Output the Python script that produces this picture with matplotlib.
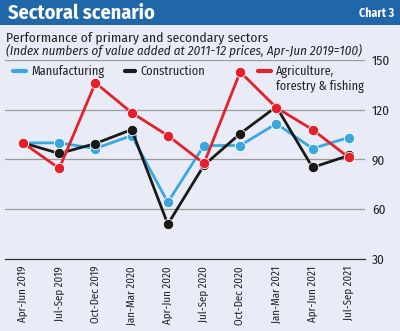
import matplotlib.pyplot as plt
from matplotlib.patches import Rectangle
from matplotlib.lines import Line2D

quarters = ['Apr-Jun 2019', 'Jul-Sep 2019', 'Oct-Dec 2019', 'Jan-Mar 2020',
            'Apr-Jun 2020', 'Jul-Sep 2020', 'Oct-Dec 2020', 'Jan-Mar 2021',
            'Apr-Jun 2021', 'Jul-Sep 2021']
manufacturing = [100, 100, 96.6, 104.4, 64.2, 98.4, 98.4, 111.6, 96.6, 103.2]
construction = [100, 93.6, 99.6, 108, 51, 86.5, 105.6, 121.8, 85.2, 92.4]
agriculture = [100, 84.6, 136.2, 118.2, 104.4, 87.6, 142.8, 121.2, 108, 91.2]
yticks = [30, 60, 90, 120, 150]

bg = '#e9ecf6'
blue, black, red = '#3aa8de', '#1a1a1a', '#e5202a'
narrow = ['Fira Sans Condensed', 'DejaVu Sans']

fig = plt.figure(figsize=(4, 3.31), dpi=100, facecolor=bg)
ax = fig.add_axes([0.0125, 0.2175, 0.9, 0.6015], facecolor=bg)

# title band
fig.patches.append(Rectangle((0, 1 - 25 / 331), 1, 25 / 331, transform=fig.transFigure,
                             facecolor='#1f67a8', edgecolor='none'))
fig.text(0.02, 1 - 13 / 331, 'Sectoral scenario', color='white', fontsize=14.5,
         fontweight='bold', family=narrow, va='center', ha='left')
fig.text(0.985, 1 - 13 / 331, 'Chart 3', color='white', fontsize=8.5,
         fontweight='bold', family=narrow, va='center', ha='right')
fig.text(0.015, 1 - 38 / 331, 'Performance of primary and secondary sectors',
         fontsize=9.8, family=narrow, va='center', ha='left', color='#222222')
fig.text(0.015, 1 - 50 / 331, '(Index numbers of value added at 2011-12 prices, Apr-Jun 2019=100)',
         fontsize=9.4, family=narrow, style='italic', va='center', ha='left', color='#222222')

x = range(len(quarters))
kw = dict(lw=2, marker='o', ms=7.5, mec='white', mew=0.6)
ax.plot(x, manufacturing, color=blue, zorder=3, **kw)
ax.plot(x, construction, color=black, zorder=4, **kw)
ax.plot(x, agriculture, color=red, zorder=5, **kw)

ax.set_xlim(-0.5, 9.45)
ax.set_ylim(30, 150)
ax.set_yticks(yticks)
for v in yticks[1:]:
    ax.axhline(v, color='#9a9a9a', lw=0.9, zorder=1)
ax.yaxis.tick_right()
ax.tick_params(axis='y', length=0, pad=5, labelsize=9.5, labelcolor='#222222')
for t in ax.get_yticklabels():
    t.set_family(narrow)
ax.set_xticks(list(x))
ax.set_xticklabels(quarters, rotation=90, fontsize=7.8, family=narrow, color='#222222')
ax.tick_params(axis='x', length=0, pad=5)
for s in ['top', 'right', 'left']:
    ax.spines[s].set_visible(False)
ax.spines['bottom'].set_color('#333333')
ax.spines['bottom'].set_linewidth(0.9)

# legend
leg_y = 1 - 71 / 331
for x0, x1, c, lab in [(13, 26, blue, 'Manufacturing'),
                       (125, 135, black, 'Construction'),
                       (258, 271, red, 'Agriculture,\nforestry & fishing')]:
    fig.add_artist(Line2D([x0 / 400, x1 / 400], [leg_y, leg_y], color=c, lw=3,
                          solid_capstyle='round', transform=fig.transFigure))
    fig.text((x1 + 5) / 400, leg_y + 6 / 331, lab, fontsize=8.8, family=narrow,
             va='top', ha='left', color='#222222', linespacing=1.2)

fig.savefig('out.png', dpi=100, facecolor=bg)
